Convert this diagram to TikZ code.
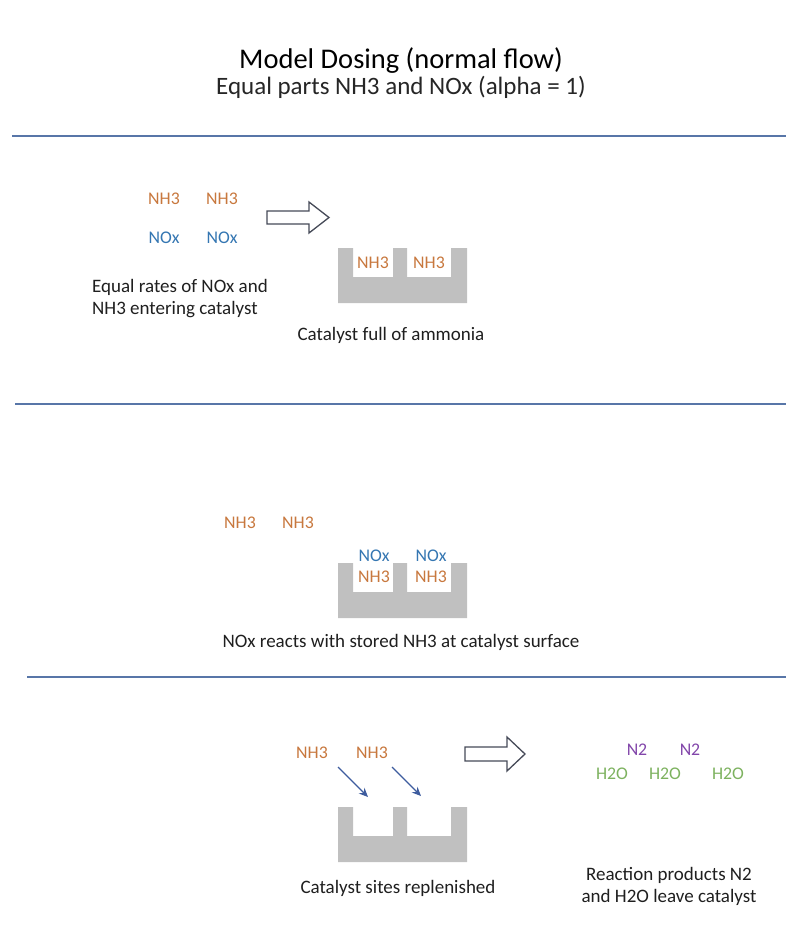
\documentclass[tikz,border=0pt]{standalone}
\usepackage{fontspec}
\setmainfont{Carlito}
\usetikzlibrary{arrows.meta}
\definecolor{nhcol}{RGB}{200,120,62}
\definecolor{nocol}{RGB}{52,118,178}
\definecolor{ntcol}{RGB}{130,70,170}
\definecolor{hocol}{RGB}{125,178,95}
\definecolor{sepcol}{RGB}{88,118,168}
\definecolor{catcol}{RGB}{192,192,192}
\definecolor{arrcol}{RGB}{62,92,158}
\definecolor{blkcol}{RGB}{70,74,88}
\begin{document}
\begin{tikzpicture}[x=1pt,y=-1pt,
  sepline/.style={draw=sepcol,line width=1.4pt},
  chem/.style={font=\fontsize{17.8}{21}\selectfont,inner sep=0pt},
  nh/.style={chem,text=nhcol},
  nox/.style={chem,text=nocol},
  ntwo/.style={chem,text=ntcol},
  hwo/.style={chem,text=hocol},
  caption/.style={font=\fontsize{19}{22}\selectfont,text=black!88,inner sep=0pt,align=center},
  blockarrow/.style={draw=blkcol,line width=1.3pt,fill=white,line join=miter},
  feed/.style={draw=arrcol,line width=1.3pt,-{Stealth[length=9pt,width=8pt]}},
  catalyst/.pic={\fill[catcol] (0,0) -- (15,0) -- (15,29) -- (55,29) -- (55,0) -- (69,0) -- (69,29) -- (113,29) -- (113,0) -- (129,0) -- (129,55) -- (0,55) -- cycle;}
]
\useasboundingbox (0,0) rectangle (786,935);
\fill[white] (0,0) rectangle (786,935);

% title
\node[font=\fontsize{28.5}{34}\selectfont,inner sep=0pt,anchor=base] (title) at (401,68) {Model Dosing (normal flow)};
\node[font=\fontsize{25}{30}\selectfont,inner sep=0pt,text=black!85,anchor=base] (subtitle) at (401,94) {Equal parts NH3 and NOx (alpha = 1)};

% separators
\draw[sepline] (12,136) -- (786,136);
\draw[sepline] (15,404) -- (786,404);
\draw[sepline] (27,677) -- (786,677);

% ---------- section 1
\node[nh] (a1) at (164,199) {NH3};
\node[nh] (a2) at (222,199) {NH3};
\node[nox] (b1) at (164,238) {NOx};
\node[nox] (b2) at (222,238) {NOx};
\draw[blockarrow] (267,211) -- (309,211) -- (309,202) -- (329,217.5) -- (309,233) -- (309,224) -- (267,224) -- cycle;
\pic at (338,248) {catalyst};
\node[nh] (c1) at (373,263) {NH3};
\node[nh] (c2) at (429,263) {NH3};
\node[caption,align=left] (cap1) at (180,299) {Equal rates of NOx and\\NH3 entering catalyst};
\node[caption] (cap2) at (391,335) {Catalyst full of ammonia};

% ---------- section 2
\node[nh] (d1) at (240,523) {NH3};
\node[nh] (d2) at (298,523) {NH3};
\pic at (338,563) {catalyst};
\node[nox] (e1) at (374,556) {NOx};
\node[nox] (e2) at (431,556) {NOx};
\node[nh] (f1) at (374,577) {NH3};
\node[nh] (f2) at (431,577) {NH3};
\node[caption] (cap3) at (401,642) {NOx reacts with stored NH3 at catalyst surface};

% ---------- section 3
\node[nh] (g1) at (312,753) {NH3};
\node[nh] (g2) at (372,753) {NH3};
\coordinate (s1) at (338,767);
\coordinate (t1) at (368,797);
\coordinate (s2) at (392,767);
\coordinate (t2) at (421,796);
\draw[feed] (s1) -- (t1);
\draw[feed] (s2) -- (t2);
\pic at (338,807) {catalyst};
\draw[blockarrow] (465,747) -- (507,747) -- (507,737) -- (525,754) -- (507,771) -- (507,761) -- (465,761) -- cycle;
\node[ntwo] (h1) at (637,750) {N2};
\node[ntwo] (h2) at (690,750) {N2};
\node[hwo] (k1) at (612,774) {H2O};
\node[hwo] (k2) at (665,774) {H2O};
\node[hwo] (k3) at (728,774) {H2O};
\node[caption] (cap4) at (398,888) {Catalyst sites replenished};
\node[caption] (cap5) at (669,886) {Reaction products N2\\and H2O leave catalyst};
\end{tikzpicture}
\end{document}
